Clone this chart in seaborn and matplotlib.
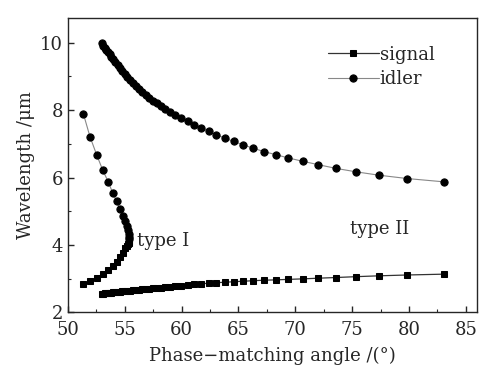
import numpy as np
import pandas as pd
import matplotlib
matplotlib.use("Agg")
import matplotlib.pyplot as plt
import seaborn as sns

# ------------------------------------------------------------
# data
# ------------------------------------------------------------
# type I (signal + idler share the same angles)
angle_I = [51.35, 51.94, 52.53, 53.06, 53.56, 53.94, 54.30, 54.59, 54.83,
           55.03, 55.17, 55.27, 55.33, 55.37, 55.39]
idler_I = [7.90, 7.21, 6.67, 6.22, 5.86, 5.54, 5.29, 5.07, 4.87,
           4.70, 4.56, 4.43, 4.33, 4.24, 4.16]
signal_I = [2.83, 2.93, 3.03, 3.13, 3.25, 3.37, 3.50, 3.63, 3.77,
            3.90, 3.97, 4.02, 4.06, 4.09, 4.12]

# type II
angle_II = [52.97, 53.10, 53.23, 53.37, 53.52, 53.67, 53.83, 54.00, 54.18,
            54.37, 54.57, 54.78, 55.00, 55.23, 55.47, 55.72, 55.98, 56.25,
            56.54, 56.84, 57.15, 57.47, 57.80, 58.15, 58.55, 59.00, 59.45,
            59.94, 60.53, 61.12, 61.74, 62.38, 63.06, 63.80, 64.59, 65.42,
            66.30, 67.24, 68.27, 69.40, 70.68, 72.04, 73.59, 75.33, 77.33,
            79.83, 83.12]
idler_II = [9.98, 9.92, 9.86, 9.80, 9.73, 9.66, 9.59, 9.51, 9.43,
            9.35, 9.26, 9.17, 9.08, 8.99, 8.90, 8.81, 8.72, 8.63,
            8.54, 8.45, 8.37, 8.28, 8.20, 8.11, 8.02, 7.94, 7.86,
            7.78, 7.68, 7.57, 7.47, 7.37, 7.27, 7.17, 7.07, 6.97,
            6.87, 6.77, 6.68, 6.58, 6.48, 6.38, 6.27, 6.17, 6.07,
            5.97, 5.87]
signal_II = [2.55, 2.555, 2.56, 2.565, 2.57, 2.575, 2.58, 2.59, 2.595,
             2.60, 2.61, 2.615, 2.625, 2.63, 2.64, 2.65, 2.66, 2.67,
             2.68, 2.69, 2.70, 2.71, 2.72, 2.73, 2.745, 2.76, 2.775,
             2.79, 2.81, 2.83, 2.845, 2.86, 2.875, 2.89, 2.905, 2.92,
             2.935, 2.95, 2.96, 2.975, 2.99, 3.01, 3.03, 3.055, 3.08,
             3.105, 3.13]

x_ticks = [50, 55, 60, 65, 70, 75, 80, 85]
y_ticks = [2, 4, 6, 8, 10]

# ------------------------------------------------------------
# style
# ------------------------------------------------------------
sns.set_style("ticks")
plt.rcParams["font.family"] = ["DejaVu Serif"]
plt.rcParams["font.size"] = 13
plt.rcParams["xtick.direction"] = "in"
plt.rcParams["ytick.direction"] = "in"

fig = plt.figure(figsize=(4.96, 3.66), dpi=100)
ax = fig.add_axes([0.137, 0.147, 0.825, 0.805])

sig_style = dict(color="#333333", linewidth=0.9, marker="s", markersize=4.2,
                 markerfacecolor="black", markeredgecolor="black")
idl_style = dict(color="#888888", linewidth=0.8, marker="o", markersize=5.2,
                 markerfacecolor="black", markeredgecolor="black")

sns.lineplot(x=angle_II, y=signal_II, sort=False, ax=ax, label="signal", **sig_style)
sns.lineplot(x=angle_II, y=idler_II, sort=False, ax=ax, label="idler", **idl_style)
sns.lineplot(x=angle_I, y=signal_I, sort=False, ax=ax, **sig_style)
sns.lineplot(x=angle_I, y=idler_I, sort=False, ax=ax, **idl_style)

ax.text(56.1, 4.1, "type I", fontsize=13, va="center", ha="left")
ax.text(74.8, 4.47, "type II", fontsize=13, va="center", ha="left")

ax.set_xlim(50, 86)
ax.set_ylim(2, 10.75)
ax.set_xticks(x_ticks)
ax.set_yticks(y_ticks)
ax.set_xticks(np.arange(52.5, 86, 5), minor=True)
ax.set_yticks([3, 5, 7, 9], minor=True)
ax.tick_params(which="major", length=4, width=1.0, labelsize=13)
ax.tick_params(axis="x", which="major", pad=6)
ax.tick_params(which="minor", length=2.5, width=0.8)
for s in ax.spines.values():
    s.set_linewidth(1.0)
    s.set_visible(True)

ax.set_xlabel("Phase\u2212matching angle /(\u00b0)", fontsize=13, labelpad=6)
ax.set_ylabel("Wavelength /\u03bcm", fontsize=13, labelpad=4)

ax.legend(loc="upper left", bbox_to_anchor=(0.636, 0.905), frameon=False,
          fontsize=13, handlelength=2.8, handletextpad=0.05, labelspacing=0.35,
          borderaxespad=0, borderpad=0)

fig.savefig("out.png", dpi=100)
